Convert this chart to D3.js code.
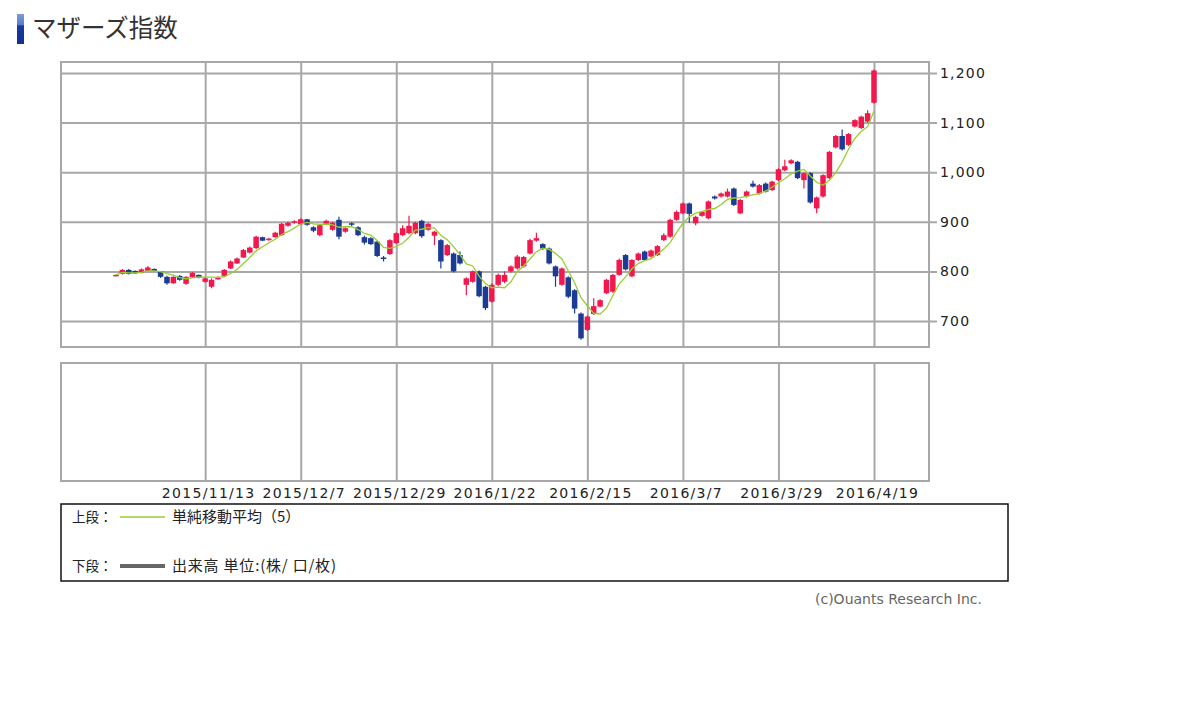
<!DOCTYPE html>
<html>
<head>
<meta charset="utf-8">
<script src="https://cdn.jsdelivr.net/npm/d3@7"></script>
<style>
  body { margin: 0; background: #fff; }
  svg { display: block; }
  text { font-family: "DejaVu Sans", sans-serif; }
  .jp { font-family: "Noto Sans CJK JP", sans-serif; }
</style>
</head>
<body>
<svg width="1200" height="723"></svg>
<script>
const tickIdx = [14, 29, 44, 59, 74, 89, 104, 119];
const tickLabels = ['2015/11/13', '2015/12/7', '2015/12/29', '2016/1/22', '2016/2/15', '2016/3/7', '2016/3/29', '2016/4/19'];
const priceTicks = [700, 800, 900, 1000, 1100, 1200];

const openList = [791, 795, 803, 801, 797, 801, 805, 800, 789, 776, 791, 775, 788, 793, 779, 769, 786, 791, 806, 816,
  828, 838, 847, 869, 865, 869, 873, 892, 898, 895, 905, 889, 873, 896, 884, 904, 880, 897, 889, 869,
  867, 860, 828, 835, 857, 873, 877, 877, 902, 884, 872, 863, 833, 836, 833, 773, 779, 800, 769, 739,
  773, 779, 800, 806, 810, 836, 862, 855, 846, 810, 773, 788, 762, 715, 682, 714, 729, 756, 759, 793,
  833, 790, 823, 840, 830, 833, 863, 870, 904, 917, 937, 897, 912, 907, 951, 951, 951, 967, 917, 951,
  977, 957, 977, 964, 984, 1004, 1018, 1021, 984, 998, 927, 951, 988, 1050, 1073, 1055, 1092, 1089, 1102, 1140];
const closeList = [793, 803, 795, 796, 804, 808, 801, 789, 776, 789, 783, 789, 797, 787, 786, 783, 787, 803, 820, 826,
  843, 848, 870, 862, 866, 878, 896, 898, 901, 905, 894, 882, 893, 902, 898, 870, 887, 894, 873, 858,
  855, 831, 825, 863, 877, 887, 892, 898, 871, 896, 880, 820, 853, 800, 816, 786, 800, 750, 726, 773,
  793, 793, 810, 830, 829, 863, 867, 846, 816, 790, 806, 749, 725, 665, 709, 730, 742, 783, 793, 823,
  804, 823, 836, 823, 842, 851, 873, 904, 920, 937, 916, 910, 920, 941, 947, 957, 961, 934, 944, 961,
  971, 974, 961, 981, 1006, 1012, 1024, 988, 998, 939, 949, 994, 1041, 1073, 1046, 1077, 1105, 1112, 1119, 1205];
const highList = [794, 805, 805, 802, 806, 811, 806, 801, 791, 790, 792, 790, 799, 794, 788, 786, 790, 805, 822, 828,
  845, 850, 872, 870, 868, 880, 898, 900, 903, 907, 906, 891, 895, 904, 900, 910, 889, 899, 891, 872,
  869, 862, 831, 865, 879, 893, 912, 900, 904, 898, 882, 865, 855, 838, 840, 788, 802, 802, 771, 776,
  796, 800, 812, 833, 831, 866, 878, 857, 848, 812, 808, 790, 764, 717, 711, 746, 744, 785, 795, 826,
  835, 825, 838, 842, 844, 853, 877, 906, 923, 939, 939, 912, 922, 943, 953, 959, 967, 969, 946, 963,
  983, 976, 979, 983, 1008, 1025, 1026, 1023, 1000, 1000, 951, 996, 1043, 1075, 1086, 1079, 1107, 1114, 1125, 1207];
const lowList = [790, 794, 794, 795, 796, 800, 800, 787, 773, 775, 781, 773, 787, 786, 777, 766, 783, 790, 805, 815,
  827, 836, 845, 861, 862, 868, 872, 890, 896, 894, 892, 879, 871, 894, 882, 865, 878, 891, 871, 854,
  853, 829, 820, 833, 855, 871, 875, 875, 868, 882, 853, 806, 831, 798, 814, 752, 777, 748, 722, 737,
  770, 776, 798, 804, 808, 834, 860, 843, 814, 769, 771, 746, 715, 662, 680, 712, 727, 754, 757, 791,
  802, 788, 821, 821, 828, 831, 861, 868, 902, 915, 898, 893, 910, 905, 945, 949, 949, 932, 915, 949,
  969, 955, 959, 962, 982, 1002, 1016, 986, 967, 937, 917, 949, 986, 1048, 1044, 1053, 1090, 1087, 1100, 1138];

const RED = '#f0184c', BLUE = '#1c3c94', GRID = '#a8a8a8';
const left = 61, right = 929;
const upTop = 62, upBottom = 347, lowTop = 363, lowBottom = 481;

const svg = d3.select('svg');
const candles = d3.range(closeList.length).map(i => ({
  i, o: openList[i], c: closeList[i], h: highList[i], l: lowList[i]
}));

// 単純移動平均(5)
candles.forEach((d, i) => {
  d.ma = d3.mean(closeList.slice(Math.max(0, i - 4), i + 1));
});

const x = d3.scalePoint().domain(d3.range(closeList.length)).range([116, 874]);
const y = d3.scaleLinear().domain([700, 1200]).range([321, 73]);

// title
const grad = svg.append('defs').append('linearGradient')
  .attr('id', 'tbar').attr('x1', 0).attr('y1', 0).attr('x2', 0).attr('y2', 1);
grad.append('stop').attr('offset', '0%').attr('stop-color', '#7f9ad6');
grad.append('stop').attr('offset', '35%').attr('stop-color', '#5a7cc8');
grad.append('stop').attr('offset', '40%').attr('stop-color', '#1a3a9c');
grad.append('stop').attr('offset', '100%').attr('stop-color', '#123094');
svg.append('rect').attr('x', 17).attr('y', 14).attr('width', 7).attr('height', 30).attr('fill', 'url(#tbar)');
svg.append('text').attr('class', 'jp').attr('x', 32).attr('y', 37)
  .attr('font-size', 24.5).attr('fill', '#333').text('マザーズ指数');

// frames
[[upTop, upBottom], [lowTop, lowBottom]].forEach(([t, b]) => {
  svg.append('rect').attr('x', left).attr('y', t).attr('width', right - left).attr('height', b - t)
    .attr('fill', 'none').attr('stroke', GRID).attr('stroke-width', 2);
});

// price gridlines + labels
const yAxis = svg.append('g').attr('transform', `translate(${left},0)`)
  .call(d3.axisRight(y).tickValues(priceTicks).tickFormat(d3.format(',')).tickSize(876).tickPadding(3));
yAxis.select('.domain').remove();
yAxis.selectAll('line').attr('stroke', GRID).attr('stroke-width', 2);
yAxis.selectAll('text').attr('font-size', 14).attr('fill', '#222').attr('letter-spacing', 1.2)
  .attr('font-family', '"DejaVu Sans", sans-serif');

// date gridlines
const xUp = svg.append('g').attr('transform', `translate(0,${upBottom})`)
  .call(d3.axisBottom(x).tickValues(tickIdx).tickSize(-(upBottom - upTop)).tickFormat(''));
const xLow = svg.append('g').attr('transform', `translate(0,${lowBottom})`)
  .call(d3.axisBottom(x).tickValues(tickIdx).tickSize(-(lowBottom - lowTop)).tickPadding(7)
    .tickFormat((d, k) => tickLabels[k]));
[xUp, xLow].forEach(g => {
  g.select('.domain').remove();
  g.selectAll('line').attr('stroke', GRID).attr('stroke-width', 2);
});
xLow.selectAll('text').attr('font-size', 14).attr('fill', '#222').attr('letter-spacing', 1.3)
  .attr('dx', 3).attr('font-family', '"DejaVu Sans", sans-serif');

// candles
const cw = 5.5;
const cg = svg.append('g').selectAll('g').data(candles).join('g')
  .attr('fill', d => d.c >= d.o ? RED : BLUE)
  .attr('stroke', d => d.c >= d.o ? RED : BLUE);
cg.append('line')
  .attr('x1', d => x(d.i)).attr('x2', d => x(d.i))
  .attr('y1', d => y(d.h)).attr('y2', d => y(d.l)).attr('stroke-width', 1.2);
cg.append('rect')
  .attr('x', d => x(d.i) - cw / 2)
  .attr('y', d => y(Math.max(d.o, d.c)))
  .attr('width', cw)
  .attr('height', d => Math.max(1.5, Math.abs(y(d.o) - y(d.c))))
  .attr('stroke', 'none');

// moving average
svg.append('path').datum(candles)
  .attr('fill', 'none').attr('stroke', '#9acd32').attr('stroke-width', 1.3)
  .attr('d', d3.line().x(d => x(d.i)).y(d => y(d.ma)));

// legend
svg.append('rect').attr('x', 61).attr('y', 504).attr('width', 947).attr('height', 77)
  .attr('fill', 'none').attr('stroke', '#111').attr('stroke-width', 1.5);
const lg = svg.append('g').attr('font-size', 15).attr('fill', '#222');
lg.append('text').attr('class', 'jp').attr('x', 72).attr('y', 522).attr('font-size', 13.5).text('上段：');
svg.append('line').attr('x1', 120).attr('x2', 165).attr('y1', 517).attr('y2', 517)
  .attr('stroke', '#9acd32').attr('stroke-width', 1.3);
lg.append('text').attr('class', 'jp').attr('x', 172).attr('y', 522).text('単純移動平均（5）');
lg.append('text').attr('class', 'jp').attr('x', 72).attr('y', 571).attr('font-size', 13.5).text('下段：');
svg.append('line').attr('x1', 120).attr('x2', 165).attr('y1', 566).attr('y2', 566)
  .attr('stroke', '#666').attr('stroke-width', 4);
lg.append('text').attr('class', 'jp').attr('x', 172).attr('y', 571).attr('letter-spacing', 0.8)
  .text('出来高 単位:(株/ 口/枚)');

svg.append('text').attr('x', 982).attr('y', 604).attr('text-anchor', 'end')
  .attr('font-size', 14).attr('fill', '#666').text('(c)Ouants Research Inc.');
</script>
</body>
</html>
